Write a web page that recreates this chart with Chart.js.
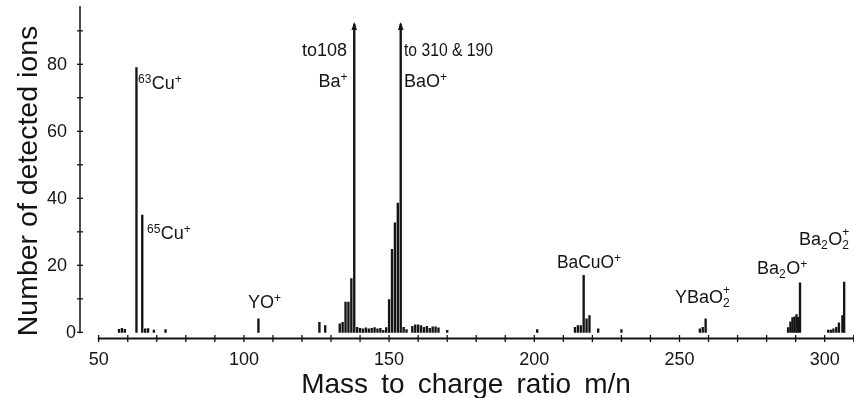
<!DOCTYPE html>
<html><head><meta charset="utf-8">
<script src="https://cdn.jsdelivr.net/npm/chart.js@4.4.0/dist/chart.umd.min.js"></script>
<style>html,body{margin:0;padding:0;background:#fff;}#wrap{width:854px;height:398px;}</style>
</head><body><div id="wrap"><canvas id="c" width="854" height="398"></canvas></div>
<script>
// ---- data ----
const massToCharge = [
  57, 58, 59, 63, 65, 66, 67, 69, 73,
  105,
  126, 128,
  133, 134, 135, 136, 137, 138,
  139, 140, 141, 142, 143, 144, 145, 146, 147, 148, 149,
  150, 151, 152, 153, 154,
  155, 156, 158, 159, 160, 161, 162, 163, 164, 165, 166, 167, 170,
  201,
  214, 215, 216, 217, 218, 219, 222, 230,
  257, 258, 259,
  287.4, 288.2, 288.9, 289.6, 290.3, 290.9, 291.5,
  301.2, 302.1, 303, 304, 304.9, 306.1, 306.7
];
const ionCounts = [
  0.9, 1.2, 0.9, 79, 35, 1, 1.1, 0.7, 0.8,
  4,
  3, 2,
  2.5, 3, 9, 9, 16, 92,
  1.5, 1.2, 1, 1.3, 1, 1.2, 1.4, 1, 1.2, 0.6, 1.4,
  9.8, 24.8, 32.7, 38.6, 92,
  1.5, 0.8, 1.8, 2.2, 2.2, 2, 1.5, 1.8, 1.2, 1.6, 1.6, 1.3, 0.6,
  0.8,
  1.5, 2, 2, 17, 4, 5, 1, 0.8,
  1, 1.5, 4,
  1.4, 3.1, 4.4, 4.6, 5.3, 4.5, 14.8,
  0.7, 0.7, 1, 1.5, 2.8, 5, 15
];
const offScalePeaks = [138, 154];           // peaks drawn with an arrow (off scale)
const xTickValues = [50,60,70,80,90,100,110,120,130,140,150,160,170,180,190,200,210,220,230,240,250,260,270,280,290,300,310];
const xTickLabels = ['50','100','150','200','250','300'];
const yTickValues = [0,10,20,30,40,50,60,70,80,90];
const yTickLabels = ['0','20','40','60','80'];
const xTitle = 'Mass to charge ratio m/n';
const yTitle = 'Number of detected ions';
// peak labels: [text, script] pieces  ('' normal, 'sup', 'sub', 'stack' = sup stacked over previous sub)
const peakLabels = [
  [['63','sup'],['Cu',''],['+','sup']],
  [['65','sup'],['Cu',''],['+','sup']],
  [['YO',''],['+','sup']],
  [['to108','']],
  [['Ba',''],['+','sup']],
  [['to 310 & 190','']],
  [['BaO',''],['+','sup']],
  [['BaCuO',''],['+','sup']],
  [['YBaO',''],['2','sub'],['+','stack']],
  [['Ba',''],['2','sub'],['O',''],['+','sup']],
  [['Ba',''],['2','sub'],['O',''],['2','sub'],['+','stack']]
];

// ---- layout / style ----
const FONT = "'Liberation Sans', Arial, sans-serif";
const INK = '#141414';
const labelPlaces = [
  {x:138, y:89}, {x:147, y:239}, {x:248, y:308},
  {x:347, y:56, align:'right'}, {x:348, y:87, align:'right'},
  {x:404, y:56, maxW:89}, {x:404, y:87},
  {x:557, y:268, maxW:57}, {x:675, y:303}, {x:757, y:274}, {x:799, y:245}
];

function drawRich(ctx, parts, place){
  const big = 18, small = 12;
  const items = [];
  let cur = 0, prevStart = 0;
  for (const [t, k] of parts){
    ctx.font = (k ? small : big) + 'px ' + FONT;
    let w = ctx.measureText(t).width;
    if (k === '' && place.maxW) w = Math.min(w, place.maxW);
    let x0, dy;
    if (k === 'stack'){ x0 = prevStart; dy = -9; cur = Math.max(cur, prevStart + w); }
    else {
      x0 = cur; dy = k === 'sup' ? -6.5 : (k === 'sub' ? 4 : 0);
      cur += w + (k ? 0.5 : 0);
    }
    items.push({t, k, x0, dy});
    prevStart = x0;
  }
  const shift = place.align === 'right' ? place.x - cur : place.x;
  ctx.fillStyle = INK;
  ctx.textAlign = 'left';
  ctx.textBaseline = 'alphabetic';
  for (const it of items){
    ctx.font = (it.k ? small : big) + 'px ' + FONT;
    if (it.k === '' && place.maxW) ctx.fillText(it.t, shift + it.x0, place.y + it.dy, place.maxW);
    else ctx.fillText(it.t, shift + it.x0, place.y + it.dy);
  }
}

function drawSpacedLine(ctx, text, cx, y, extraGap){
  const words = text.split(' ');
  const gap = ctx.measureText(' ').width + extraGap;
  const widths = words.map(w => ctx.measureText(w).width);
  const total = widths.reduce((a, b) => a + b, 0) + gap * (words.length - 1);
  let x = cx - total / 2;
  ctx.textAlign = 'left';
  words.forEach((w, i) => { ctx.fillText(w, x, y); x += widths[i] + gap; });
}

const axesPlugin = {
  id: 'drawnAxes',
  afterDatasetsDraw(chart){
    const ctx = chart.ctx, xs = chart.scales.x, ys = chart.scales.y, ca = chart.chartArea;
    ctx.save();
    ctx.strokeStyle = INK; ctx.fillStyle = INK;
    // arrowheads on off-scale peaks
    const meta = chart.getDatasetMeta(0);
    offScalePeaks.forEach(m => {
      const el = meta.data[massToCharge.indexOf(m)];
      ctx.beginPath();
      ctx.moveTo(el.x, el.y - 2);
      ctx.lineTo(el.x - 2.8, el.y + 6);
      ctx.lineTo(el.x + 2.8, el.y + 6);
      ctx.closePath(); ctx.fill();
    });
    // y axis
    const yx = ca.left;
    ctx.lineWidth = 1.5;
    ctx.beginPath(); ctx.moveTo(yx, ca.top); ctx.lineTo(yx, ys.getPixelForValue(0) + 1); ctx.stroke();
    ctx.lineWidth = 1.3;
    yTickValues.forEach(v => {
      const py = ys.getPixelForValue(v);
      ctx.beginPath(); ctx.moveTo(yx - 3, py); ctx.lineTo(yx + 3, py); ctx.stroke();
    });
    ctx.font = '18px ' + FONT; ctx.textAlign = 'right'; ctx.textBaseline = 'middle';
    yTickLabels.forEach(s => {
      const v = parseFloat(s);
      const off = v === 0 ? 4 : 13;
      ctx.fillText(s, yx - off, ys.getPixelForValue(v) + 1);
    });
    // x axis
    const xy = ca.bottom;
    ctx.lineWidth = 1.8;
    ctx.beginPath(); ctx.moveTo(xs.getPixelForValue(xTickValues[0]) - 1, xy); ctx.lineTo(ca.right, xy); ctx.stroke();
    ctx.lineWidth = 1.3;
    xTickValues.forEach(v => {
      const px = xs.getPixelForValue(v);
      ctx.beginPath(); ctx.moveTo(px, xy - 3.5); ctx.lineTo(px, xy + 3.5); ctx.stroke();
    });
    ctx.font = '18px ' + FONT; ctx.textAlign = 'center'; ctx.textBaseline = 'alphabetic';
    xTickLabels.forEach(s => {
      ctx.fillText(s, xs.getPixelForValue(parseFloat(s)), 365);
    });
    // titles
    ctx.font = '28px ' + FONT;
    drawSpacedLine(ctx, xTitle, 466, 393, 5.4);
    ctx.save();
    ctx.translate(36.5, 181); ctx.rotate(-Math.PI / 2);
    ctx.font = '28.5px ' + FONT; ctx.textAlign = 'center';
    ctx.fillText(yTitle, 0, 0);
    ctx.restore();
    // peak labels
    peakLabels.forEach((p, i) => drawRich(ctx, p, labelPlaces[i]));
    ctx.restore();
  }
};

new Chart(document.getElementById('c').getContext('2d'), {
  type: 'bar',
  data: {
    datasets: [{
      data: massToCharge.map((m, i) => ({x: m, y: ionCounts[i]})),
      backgroundColor: INK, borderWidth: 0, barThickness: 1.7, grouped: false
    }]
  },
  options: {
    responsive: false, animation: false, devicePixelRatio: 1,
    layout: {padding: {left: 80, right: 0, top: 6, bottom: 59.5}},
    plugins: {legend: {display: false}, tooltip: {enabled: false}},
    scales: {
      x: {type: 'linear', min: 43.56, max: 310.09, display: false, offset: false},
      y: {type: 'linear', min: -1.85, max: 97.4, display: false}
    }
  },
  plugins: [axesPlugin]
});
</script></body></html>
